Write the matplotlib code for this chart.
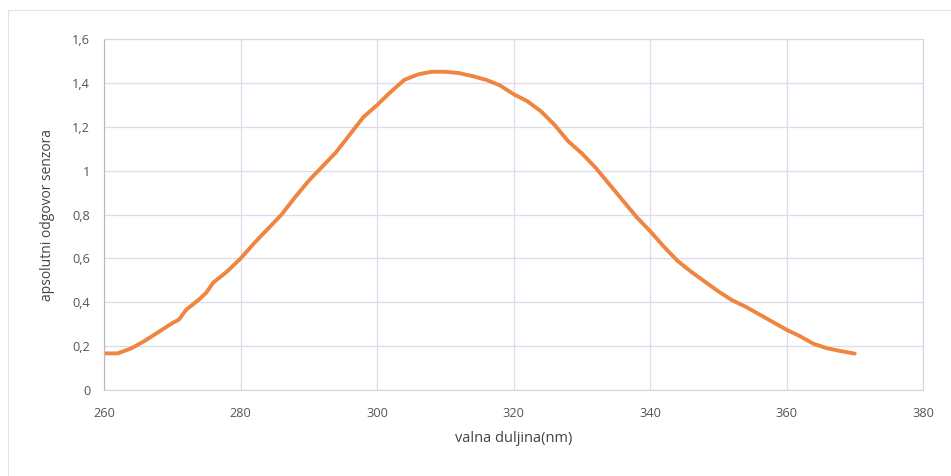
import matplotlib
matplotlib.use("Agg")
import matplotlib.pyplot as plt
from matplotlib.ticker import FuncFormatter, MultipleLocator
from matplotlib.lines import Line2D

wavelength = [260, 262, 264, 266, 268, 270, 271, 272, 274, 275, 276, 278,
              280, 282, 284, 286, 288, 290, 292, 294, 296, 298, 300, 302,
              304, 306, 308, 310, 312, 314, 316, 318, 320, 322, 324, 326,
              328, 330, 332, 334, 336, 338, 340, 342, 344, 346, 348, 350,
              352, 354, 356, 358, 360, 362, 364, 366, 368, 370]
response = [0.167, 0.167, 0.19, 0.225, 0.265, 0.305, 0.322, 0.365, 0.415, 0.445,
            0.49, 0.54, 0.60, 0.67, 0.735, 0.80, 0.88, 0.955, 1.02, 1.085,
            1.165, 1.245, 1.30, 1.36, 1.415, 1.44, 1.452, 1.452, 1.446, 1.432,
            1.415, 1.39, 1.35, 1.318, 1.272, 1.21, 1.135, 1.08, 1.015, 0.94,
            0.865, 0.79, 0.725, 0.655, 0.59, 0.54, 0.495, 0.45, 0.41, 0.38,
            0.345, 0.31, 0.275, 0.245, 0.21, 0.19, 0.177, 0.166]

plt.rcParams["font.family"] = ["Open Sans", "DejaVu Sans"]

fig = plt.figure(figsize=(9.51, 4.76), dpi=100)
fig.patch.set_facecolor("white")
ax = fig.add_axes([0.1094, 0.1807, 0.8612, 0.7367])

ax.plot(wavelength, response, color="#EF8540", lw=2.8, solid_capstyle="round")

ax.set_xlim(260, 380)
ax.set_ylim(0, 1.6)
ax.xaxis.set_major_locator(MultipleLocator(20))
ax.yaxis.set_major_locator(MultipleLocator(0.2))

def comma(v, pos):
    s = f"{v:.1f}".rstrip("0").rstrip(".")
    return s.replace(".", ",")

ax.yaxis.set_major_formatter(FuncFormatter(comma))
ax.grid(True, color="#dcdcec", lw=0.9)
ax.set_axisbelow(True)
for side in ["top", "right", "bottom"]:
    ax.spines[side].set_color("#d4d4e4")
ax.spines["left"].set_color("#b8b8c4")
ax.tick_params(length=0, colors="#555555", labelsize=9.2, pad=10)
ax.tick_params(axis="x", pad=12)

ax.set_xlabel("valna duljina(nm)", color="#444444", fontsize=10.5, labelpad=8)
ax.set_ylabel("apsolutni odgovor senzora", color="#444444", fontsize=10, labelpad=12)

# faint outer chart frame from the scan
fig.add_artist(Line2D([8 / 951, 1.0], [1 - 10 / 476, 1 - 10 / 476],
                      transform=fig.transFigure, color="#e2e2ea", lw=0.8))
fig.add_artist(Line2D([8 / 951, 8 / 951], [0.0, 1 - 10 / 476],
                      transform=fig.transFigure, color="#e2e2ea", lw=0.8))

fig.savefig("out.png", dpi=100, facecolor=fig.get_facecolor())
plt.close(fig)
